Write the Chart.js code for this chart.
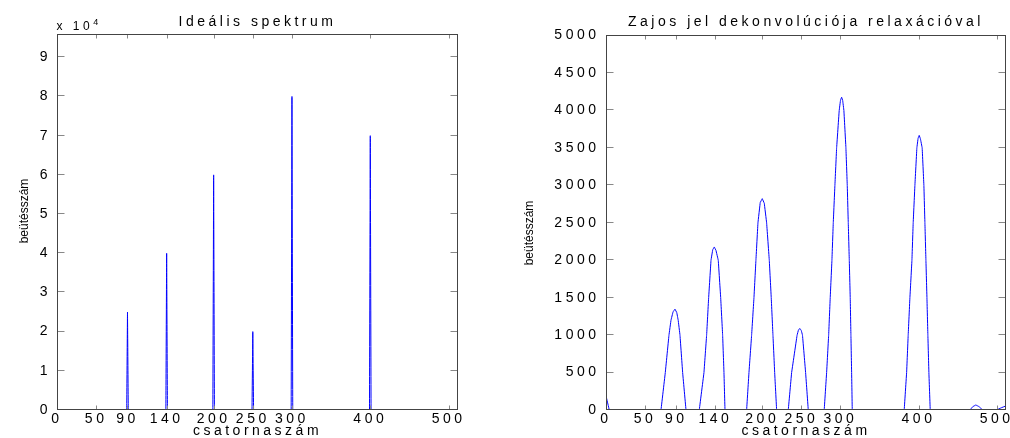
<!DOCTYPE html>
<html>
<head>
<meta charset="utf-8">
<script src="https://cdn.jsdelivr.net/npm/chart.js@4/dist/chart.umd.min.js"></script>
<style>
  body { margin: 0; background: #fff; }
  .box { position: absolute; top: 0; width: 505px; height: 438px; }
</style>
</head>
<body>
<div class="box" style="left:0"><canvas id="ideal"></canvas></div>
<div class="box" style="left:505px"><canvas id="deconv"></canvas></div>
<script>
// ticks shown on the channel axis of both plots
const channelTicks = [0, 50, 90, 140, 200, 250, 300, 400, 500];
const idealYTicks = [0, 10000, 20000, 30000, 40000, 50000, 60000, 70000, 80000, 90000];
const deconvYTicks = [0, 500, 1000, 1500, 2000, 2500, 3000, 3500, 4000, 4500, 5000];

// ideal spectrum: single channel lines
const idealChannels = [90, 140, 200, 250, 300, 400];
const idealCounts = [25000, 40000, 60000, 20000, 80000, 70000];

// deconvolved spectrum (null = curve is below zero)
const deconvChannels = [0, 4.2, null,
  70.4, 75.9, 80.6, 83.2, 85.8, 88.3, 90.6, 92.4, 94.7, 98.1, 102.4, null,
  119.4, 125.4, 128.8, 131.4, 134.4, 136.6, 138.6, 140.8, 143.7, 146.8, 149.3, 151, 152.3, null,
  180, 183, 186.4, 189.4, 191.9, 194.5, 197.4, 200, 202.6, 205.6, 209, 211.5, 213.7, 215.9, 218.4, null,
  233.3, 237.6, 244.6, 246.4, 248.2, 250, 251.5, 255.5, 258.9, null,
  279.3, 282.4, 285, 287, 289.2, 290.9, 293, 295.2, 298.5, 300.2, 301.6, 303, 304.5, 307.1, 308.8, 310.1, 311.4, 312.6, 313.5, 314.4, 315.2, null,
  381.7, 384.8, 386.8, 389, 391.6, 393.2, 395.4, 397.9, 399.5, 400.9, 402.5, 404.7, 406.9, 408.2, 409.5, 410.8, 412, 413.3, 415, null,
  465.8, 469.5, 473.4, 477.5, 482, null,
  500, 506, 512];
const deconvCounts = [190, 0, null,
  0, 500, 1000, 1200, 1310, 1347, 1300, 1200, 1000, 500, 0, null,
  0, 500, 1000, 1500, 2000, 2140, 2177, 2130, 2000, 1500, 1000, 500, 0, null,
  0, 500, 1000, 1500, 2000, 2500, 2770, 2822, 2760, 2500, 2000, 1500, 1000, 500, 0, null,
  0, 500, 1000, 1070, 1089, 1060, 1000, 500, 0, null,
  0, 500, 1000, 1500, 2000, 2500, 3000, 3500, 4000, 4140, 4177, 4130, 4000, 3500, 3000, 2500, 2000, 1500, 1000, 500, 0, null,
  0, 500, 1000, 1500, 2000, 2500, 3000, 3500, 3630, 3667, 3620, 3500, 3000, 2500, 2000, 1500, 1000, 500, 0, null,
  0, 45, 67, 45, 0, null,
  0, 30, 55];

const FONT = '"Liberation Sans", Arial, sans-serif';

// the picture's text is stretched sideways, so space the letters out
const spacing = {
  id: 'spacing',
  beforeUpdate(chart) { chart.ctx.letterSpacing = '3.5px'; },
  beforeDraw(chart) { chart.ctx.letterSpacing = '3.5px'; }
};

// matlab style box with inward ticks, plus the rotated y label
const frame = {
  id: 'frame',
  afterDraw(chart, args, opts) {
    const { ctx, chartArea: a, scales: { x, y } } = chart;
    const L = Math.round(a.left) + 0.5, R = Math.round(a.right) - 0.5;
    const T = Math.round(a.top) + 0.5, B = Math.round(a.bottom) - 0.5;
    ctx.save();
    ctx.lineWidth = 1;
    ctx.strokeStyle = '#888';
    ctx.beginPath();
    x.ticks.forEach(t => {
      const px = Math.round(x.getPixelForValue(t.value)) + 0.5;
      ctx.moveTo(px, B); ctx.lineTo(px, B - 4);
      ctx.moveTo(px, T); ctx.lineTo(px, T + 4);
    });
    y.ticks.forEach(t => {
      const py = Math.round(y.getPixelForValue(t.value)) - 0.5;
      ctx.moveTo(L, py); ctx.lineTo(L + 7, py);
      ctx.moveTo(R, py); ctx.lineTo(R - 7, py);
    });
    ctx.stroke();
    ctx.strokeStyle = '#444';
    ctx.strokeRect(L, T, R - L, B - T);

    ctx.fillStyle = '#000';
    if (opts.exponent) {
      ctx.letterSpacing = '3.5px';
      ctx.textAlign = 'left';
      ctx.textBaseline = 'alphabetic';
      ctx.font = '12px ' + FONT;
      ctx.fillText('x 10', 56.5, 29.5);
      const w = ctx.measureText('x 10').width;
      ctx.font = '9px ' + FONT;
      ctx.fillText('4', 56.5 + w, 24.5);
    }
    ctx.letterSpacing = '0px';
    ctx.font = '12px ' + FONT;
    ctx.textAlign = 'center';
    ctx.textBaseline = 'middle';
    ctx.translate(opts.labelX, opts.labelY);
    ctx.rotate(-Math.PI / 2);
    ctx.fillText('beütésszám', 0, 0);
    ctx.restore();
  }
};

function makeChart(id, cfg) {
  return new Chart(document.getElementById(id), {
    type: 'line',
    data: {
      datasets: [{
        data: cfg.points,
        borderColor: 'rgb(0,0,255)',
        borderWidth: 1,
        pointRadius: 0,
        // tiny tension keeps chart.js off its fast path, which merges points in one pixel column
        tension: 0.0001,
        fill: false,
        spanGaps: false
      }]
    },
    options: {
      responsive: true,
      maintainAspectRatio: false,
      animation: false,
      events: [],
      layout: { padding: { left: 0, right: cfg.padRight, top: 0, bottom: 0 } },
      plugins: {
        legend: { display: false },
        tooltip: { enabled: false },
        title: {
          display: true,
          text: cfg.title,
          color: '#000',
          fullSize: false,
          font: { family: FONT, size: 14, weight: 'normal' },
          padding: { top: 14, bottom: cfg.titleGap }
        },
        frame: { labelX: 25, labelY: cfg.labelY, exponent: cfg.exponent }
      },
      scales: {
        x: {
          type: 'linear',
          min: 0,
          max: 512,
          afterBuildTicks: s => { s.ticks = channelTicks.map(v => ({ value: v })); },
          afterFit: s => { s.height = 28; s.paddingLeft = 0; s.paddingRight = 0; },
          grid: { display: false, drawTicks: false },
          border: { display: false },
          ticks: {
            autoSkip: false,
            maxRotation: 0,
            padding: 1,
            color: '#000',
            font: { family: FONT, size: 14 }
          },
          title: {
            display: true,
            text: 'csatornaszám',
            color: '#000',
            font: { family: FONT, size: 14, lineHeight: 1 },
            padding: { top: 0, bottom: 0 }
          }
        },
        y: {
          min: 0,
          max: cfg.yMax,
          afterBuildTicks: s => { s.ticks = cfg.yTicks.map(v => ({ value: v })); },
          afterFit: s => { s.width = cfg.axisWidth; s.paddingTop = 0; s.paddingBottom = 0; },
          grid: { display: false, drawTicks: false },
          border: { display: false },
          ticks: {
            padding: cfg.tickPad,
            color: '#000',
            font: { family: FONT, size: 14 },
            callback: cfg.yLabel
          }
        }
      }
    },
    plugins: [spacing, frame]
  });
}

const idealPoints = [];
idealChannels.forEach((c, i) => {
  idealPoints.push({ x: c - 1, y: 0 }, { x: c, y: idealCounts[i] }, { x: c + 1, y: 0 }, { x: c + 1, y: null });
});

const deconvPoints = deconvChannels.map((c, i) => ({
  x: c === null ? deconvChannels[i - 1] : c,
  y: deconvCounts[i]
}));

makeChart('ideal', {
  points: idealPoints,
  title: 'Ideális spektrum',
  titleGap: 3,
  padRight: 47,
  axisWidth: 57,
  tickPad: 6,
  yMax: 96000,
  yTicks: idealYTicks,
  yLabel: v => v / 10000,
  labelY: 211,
  exponent: true
});

makeChart('deconv', {
  points: deconvPoints,
  title: 'Zajos jel dekonvolúciója relaxációval',
  titleGap: 4,
  padRight: 4,
  axisWidth: 101,
  tickPad: 6.5,
  yMax: 5010,
  yTicks: deconvYTicks,
  yLabel: v => v,
  labelY: 233,
  exponent: false
});
</script>
</body>
</html>
